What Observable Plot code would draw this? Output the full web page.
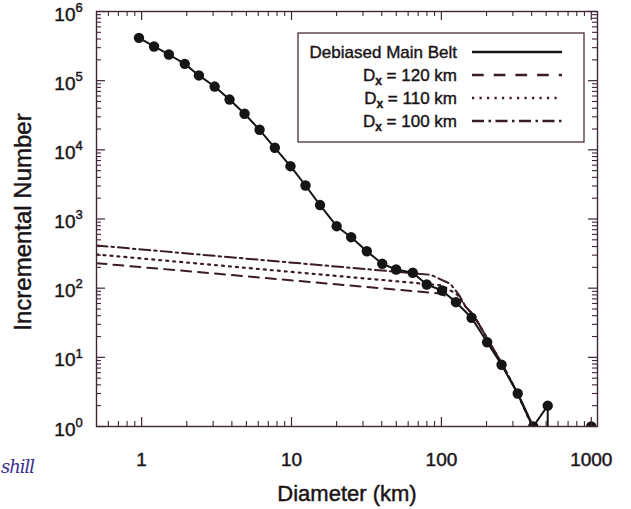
<!DOCTYPE html>
<html><head><meta charset="utf-8">
<script src="https://cdn.jsdelivr.net/npm/d3@7"></script>
<script src="https://cdn.jsdelivr.net/npm/@observablehq/plot@0.6"></script>
<style>
html,body{margin:0;padding:0;background:#fff;}
#wrap{position:relative;width:631px;height:509px;overflow:hidden;font-family:"Liberation Sans",Arial,Helvetica,sans-serif;}
#wrap svg{position:absolute;left:0;top:0;}
#note{position:absolute;left:1px;top:456px;font:italic 18px "DejaVu Serif",serif;color:#3b2c8f;letter-spacing:-1px;}
</style></head><body><div id="wrap"></div>
<script>
// Debiased main belt (incremental number per diameter bin)
const mainD = [0.96, 1.21, 1.52, 1.94, 2.41, 3.07, 3.86, 4.86, 6.12, 7.74, 9.84, 12.4, 15.5, 20.0, 25.0, 31.8, 40.3, 49.9, 64.4, 79.8, 101, 125, 159, 202, 252, 323, 410, 512, 646, 813, 1000];
const mainN = [416000, 312000, 239000, 175000, 119000, 82200, 53300, 33200, 19500, 10700, 5800, 3050, 1590, 787, 546, 342, 225, 186, 167, 113, 92.5, 62.7, 37.3, 16.5, 7.8, 3.0, 1, 2, 0, 0, 1];
// Model curves
const dx120D = [0.5, 97, 116, 130, 145, 165, 200, 250, 320, 450];
const dx120N = [230, 84, 72, 62, 54, 40, 19.5, 8.5, 3.1, 0.6];
const dx110D = [0.5, 100, 113, 128, 145, 165, 200, 250, 320, 450];
const dx110N = [307, 110, 95, 80, 54, 40, 19.5, 8.5, 3.1, 0.6];
const dx100D = [0.5, 85, 115, 132, 145, 165, 200, 250, 320, 450];
const dx100N = [414, 156, 115, 78, 54, 40, 19.5, 8.5, 3.1, 0.6];
// Axes
const xDomain = [0.5, 1100];
const yDomain = [1, 1e6];
const xMajor = [1, 10, 100, 1000];
const xMinor = [0.6, 0.7, 0.8, 0.9, 2, 3, 4, 5, 6, 7, 8, 9, 20, 30, 40, 50, 60, 70, 80, 90, 200, 300, 400, 500, 600, 700, 800, 900];
const yMajor = [1, 10, 100, 1000, 10000, 100000, 1000000];
const yMinor = [];
for (const k of [1, 10, 100, 1000, 10000, 100000]) for (const m of [2,3,4,5,6,7,8,9]) yMinor.push(m * k);
const xTickLabels = ["1", "10", "100", "1000"];
const legendLabels = ["Debiased Main Belt", "120", "110", "100"];

const W = 631, H = 509, ML = 96, MR = 34, MT = 11, MB = 83;
const PW = W - ML - MR, PH = H - MT - MB;
const AX = "#3f2535", TXT = "#1a1417", MAIN = "#151515", MOD = "#3a1d22";
const FONT = '"Liberation Sans", Arial, sans-serif';

const main = mainD.map((D, i) => ({D, N: mainN[i]}));
const mk = (Ds, Ns) => Ds.map((D, i) => ({D, N: Ns[i]}));
const m120 = mk(dx120D, dx120N), m110 = mk(dx110D, dx110N), m100 = mk(dx100D, dx100N);
// vertical drops where the count goes to zero (log of 0)
const drops = [];
for (let i = 0; i < main.length - 1; i++) {
  if (main[i].N > 0 && main[i + 1].N === 0) drops.push(main[i]);
}
const majMin = 9, minLen = 5;
const txt = {fill: TXT, stroke: TXT, strokeWidth: 0.45};

const chart = Plot.plot({
  width: W, height: H,
  marginLeft: ML, marginRight: MR, marginTop: MT, marginBottom: MB,
  x: {type: "log", domain: xDomain, axis: null},
  y: {type: "log", domain: yDomain, axis: null},
  style: {fontFamily: FONT, color: TXT, background: "white"},
  marks: [
    // model lines
    Plot.line(m120, {x: "D", y: "N", stroke: MOD, strokeWidth: 2, strokeDasharray: "10,7", clip: true}),
    Plot.line(m110, {x: "D", y: "N", stroke: MOD, strokeWidth: 2.2, strokeDasharray: "2,5", clip: true}),
    Plot.line(m100, {x: "D", y: "N", stroke: MOD, strokeWidth: 2, strokeDasharray: "11,4,2.5,4", clip: true}),
    // main
    Plot.line(main, {x: "D", y: d => d.N > 0 ? d.N : NaN, stroke: MAIN, strokeWidth: 2, clip: true}),
    Plot.ruleX(drops, {x: "D", y1: () => yDomain[0], y2: "N", stroke: MAIN, strokeWidth: 2, clip: true}),
    Plot.dot(main.filter(d => d.N > 0), {x: "D", y: "N", r: 5.2, fill: MAIN, stroke: "none", clip: true}),
    // ticks (inward, on all four sides)
    Plot.tickY(yMajor, {y: d => d, insetRight: PW - majMin, stroke: AX, strokeWidth: 1.2}),
    Plot.tickY(yMajor, {y: d => d, insetLeft: PW - majMin, stroke: AX, strokeWidth: 1.2}),
    Plot.tickY(yMinor, {y: d => d, insetRight: PW - minLen, stroke: AX, strokeWidth: 1.1}),
    Plot.tickY(yMinor, {y: d => d, insetLeft: PW - minLen, stroke: AX, strokeWidth: 1.1}),
    Plot.tickX(xMajor, {x: d => d, insetTop: PH - majMin, stroke: AX, strokeWidth: 1.2}),
    Plot.tickX(xMajor, {x: d => d, insetBottom: PH - majMin, stroke: AX, strokeWidth: 1.2}),
    Plot.tickX(xMinor, {x: d => d, insetTop: PH - minLen, stroke: AX, strokeWidth: 1.1}),
    Plot.tickX(xMinor, {x: d => d, insetBottom: PH - minLen, stroke: AX, strokeWidth: 1.1}),
    Plot.frame({stroke: AX, strokeWidth: 1.4}),
    // tick labels
    Plot.text(xMajor, {x: d => d, text: (d, i) => xTickLabels[i], frameAnchor: "bottom", lineAnchor: "middle", textAnchor: "middle", dy: 33, fontSize: 19, ...txt}),
    Plot.text(yMajor, {y: d => d, text: () => "10", frameAnchor: "left", lineAnchor: "middle", textAnchor: "end", dx: -21, dy: 3, fontSize: 19, ...txt}),
    Plot.text(yMajor, {y: d => d, text: d => String(Math.round(Math.log10(d))), frameAnchor: "left", lineAnchor: "middle", textAnchor: "start", dx: -21, dy: -4, fontSize: 13, ...txt}),
    // axis titles
    Plot.text(["Diameter (km)"], {frameAnchor: "bottom", lineAnchor: "middle", textAnchor: "middle", dy: 67, fontSize: 22, ...txt}),
    Plot.text(["Incremental Number"], {frameAnchor: "left", lineAnchor: "middle", textAnchor: "middle", dx: -73, dy: 3, rotate: -90, fontSize: 24, ...txt})
  ]
});
const wrap = document.getElementById("wrap");
wrap.appendChild(chart);

// legend overlay
const lg = d3.select(wrap).append("svg").attr("width", W).attr("height", H).style("pointer-events", "none");
lg.append("rect").attr("x", 298).attr("y", 33).attr("width", 286).attr("height", 109)
  .attr("fill", "none").attr("stroke", "#4a2d3d").attr("stroke-width", 1.3);
const rows = [
  {y: 52, dash: null, w: 2.4, color: MAIN},
  {y: 75, dash: "11.7,10", w: 2.4, color: MOD},
  {y: 98, dash: "2.2,5.3", w: 2.6, color: MOD},
  {y: 121, dash: "12,4.5,2.5,4.5", w: 2.4, color: MOD}
];
rows.forEach((r, i) => {
  const t = lg.append("text").attr("x", 457).attr("y", r.y).attr("dy", "0.35em")
    .attr("text-anchor", "end").attr("font-size", 17).attr("fill", TXT)
    .attr("stroke", TXT).attr("stroke-width", 0.4)
    .attr("font-family", FONT);
  if (i === 0) t.text(legendLabels[0]);
  else {
    t.append("tspan").text("D");
    t.append("tspan").attr("font-size", 12).attr("font-weight", "bold").attr("dy", 4).text("x");
    t.append("tspan").attr("dy", -4).text(" = " + legendLabels[i] + " km");
  }
  const ln = lg.append("line").attr("x1", 472).attr("x2", 562).attr("y1", r.y).attr("y2", r.y)
    .attr("stroke", r.color).attr("stroke-width", r.w);
  if (r.dash) ln.attr("stroke-dasharray", r.dash);
});
const note = document.createElement("div");
note.id = "note"; note.textContent = "shill";
wrap.appendChild(note);
</script>
</body></html>
